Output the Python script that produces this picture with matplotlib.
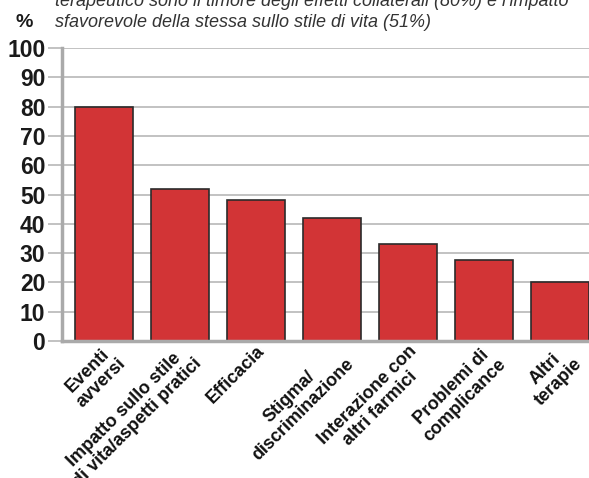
import matplotlib
matplotlib.use("Agg")
import matplotlib.pyplot as plt

categories = [
    "Eventi\navversi",
    "Impatto sullo stile\ndi vita/aspetti pratici",
    "Efficacia",
    "Stigma/\ndiscriminazione",
    "Interazione con\naltri farmici",
    "Problemi di\ncomplicance",
    "Altri\nterapie",
]
values = [80, 52, 48, 42, 33, 27.5, 20]
yticks = [0, 10, 20, 30, 40, 50, 60, 70, 80, 90, 100]

title_lines = [
    "terapeutico sono il timore degli effetti collaterali (80%) e l'impatto",
    "sfavorevole della stessa sullo stile di vita (51%)",
]

plt.rcParams['font.family'] = ['Liberation Sans', 'DejaVu Sans']

fig = plt.figure(figsize=(5.89, 4.78), dpi=100)
ax = fig.add_axes([62 / 589, 1 - 341 / 478, 1 - 62 / 589, (341 - 48) / 478])

x = list(range(len(categories)))
ax.bar(x, values, width=0.76, color='#d23436', edgecolor='#2b2b2b', linewidth=1.2, zorder=3)

ax.set_xlim(-0.55, 6.38)
ax.set_ylim(0, 100)
ax.set_yticks(yticks)
ax.set_yticklabels([str(v) for v in yticks], fontsize=16.5, fontweight='bold', color='#1a1a1a')
ax.yaxis.grid(True, color='#b8b8b8', linewidth=1.2, zorder=0)
ax.tick_params(axis='y', length=10, width=1.2, color='#b8b8b8', pad=2)

ax.set_xticks(x)
ax.set_xticklabels(categories, rotation=45, ha='right', va='top', rotation_mode='anchor',
                   fontsize=13, fontweight='bold', color='#111111', linespacing=1.1,
                   multialignment='center')
ax.tick_params(axis='x', length=0, pad=1)

for side in ['top', 'right']:
    ax.spines[side].set_visible(False)
for side in ['left', 'bottom']:
    ax.spines[side].set_color('#aaaaaa')
    ax.spines[side].set_linewidth(2.5)
    ax.spines[side].set_zorder(4)

fig.text(16 / 589, 1 - 27 / 478, "%", fontsize=14, fontweight='bold', color='#1a1a1a')
fig.text(55 / 589, 1 - 6 / 478, title_lines[0], fontsize=13, style='italic', color='#333333')
fig.text(55 / 589, 1 - 27 / 478, title_lines[1], fontsize=13, style='italic', color='#333333')

fig.savefig("out.png", dpi=100)
